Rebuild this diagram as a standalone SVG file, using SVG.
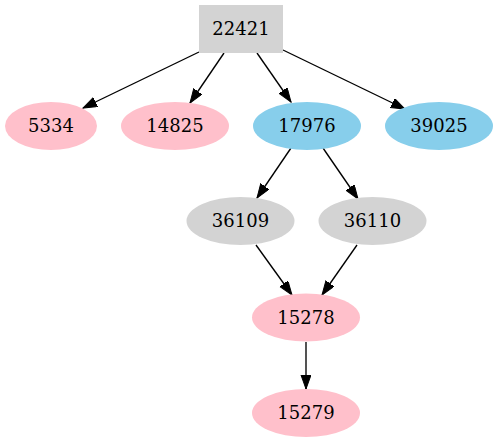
<svg xmlns="http://www.w3.org/2000/svg" width="498" height="443" viewBox="0 0 498 443">
<style>
.t{font-family:"DejaVu Serif",serif;font-size:18px;text-anchor:middle;fill:#000}
.e{stroke:#000;stroke-width:1.35;fill:none}
.pink{fill:#ffc0cb}.blue{fill:#87ceeb}.grey{fill:#d3d3d3}
</style>
<defs>
<marker id="ah" markerUnits="userSpaceOnUse" markerWidth="16" markerHeight="12" refX="14" refY="5" orient="auto">
<path d="M0,0 L14,5 L0,10 z" fill="#000" stroke="#000" stroke-width="1"/>
</marker>
</defs>
<rect width="498" height="443" fill="#fff"/>
<g id="connectors">
<line class="e" x1="199" y1="52" x2="83" y2="108" marker-end="url(#ah)"/>
<line class="e" x1="224" y1="53" x2="190" y2="103" marker-end="url(#ah)"/>
<line class="e" x1="257" y1="53" x2="291" y2="102" marker-end="url(#ah)"/>
<line class="e" x1="283" y1="50" x2="405" y2="109" marker-end="url(#ah)"/>
<line class="e" x1="291" y1="148" x2="257" y2="198" marker-end="url(#ah)"/>
<line class="e" x1="323" y1="148" x2="358" y2="199" marker-end="url(#ah)"/>
<line class="e" x1="256" y1="245" x2="292" y2="295" marker-end="url(#ah)"/>
<line class="e" x1="357" y1="245" x2="322" y2="295" marker-end="url(#ah)"/>
<line class="e" x1="306" y1="342" x2="306" y2="389" marker-end="url(#ah)"/>
</g>
<g id="n22421"><rect class="grey" x="199" y="5" width="84" height="48"/><text class="t" x="241" y="35">22421</text></g>
<g id="n5334"><ellipse class="pink" cx="51" cy="126" rx="46" ry="24"/><text class="t" x="51" y="132">5334</text></g>
<g id="n14825"><ellipse class="pink" cx="175" cy="126" rx="54" ry="24"/><text class="t" x="175" y="132">14825</text></g>
<g id="n17976"><ellipse class="blue" cx="307" cy="126" rx="54" ry="24"/><text class="t" x="307" y="132">17976</text></g>
<g id="n39025"><ellipse class="blue" cx="439" cy="126" rx="54" ry="24"/><text class="t" x="439" y="132">39025</text></g>
<g id="n36109"><ellipse class="grey" cx="240.5" cy="221" rx="54" ry="24"/><text class="t" x="240.5" y="227">36109</text></g>
<g id="n36110"><ellipse class="grey" cx="372.5" cy="221" rx="54" ry="24"/><text class="t" x="372.5" y="227">36110</text></g>
<g id="n15278"><ellipse class="pink" cx="306" cy="317.5" rx="54" ry="24"/><text class="t" x="306" y="323.5">15278</text></g>
<g id="n15279"><ellipse class="pink" cx="306" cy="413" rx="54" ry="24"/><text class="t" x="306" y="419">15279</text></g>
</svg>
